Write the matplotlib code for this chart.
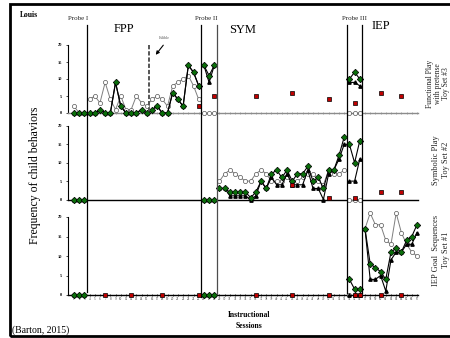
import matplotlib
matplotlib.use("Agg")
import matplotlib.pyplot as plt
import matplotlib.transforms as mtransforms
from matplotlib.lines import Line2D
from matplotlib.patches import Rectangle, FancyArrowPatch

plt.rcParams['font.family'] = ['Liberation Serif', 'DejaVu Serif']

# ---------------- data ----------------
sessions = list(range(1, 68))
phase_breaks = [3.5, 25.5, 28.5, 53.5, 56.5]   # Probe I | FPP | Probe II | SYM | Probe III | IEP

# Functional play with pretense (toy set #3)
fp_child = [0, 0, 0] + [0, 0, 1, 0, 0, 9, 2, 0, 0, 0, 1, 0, 1, 2, 0, 0, 6, 4, 2, 14, 12, 8] \
    + [14, 11, 14] + [None] * 25 + [10, 12, 10] + [None] * 11
fp_indep = [0, 0, 0] + [0, 0, 1, 0, 0, 9, 2, 0, 0, 0, 1, 0, 1, 2, 0, 0, 6, 4, 2, 14, 12, 8] \
    + [14, 9, 14] + [None] * 25 + [9, 9, 8] + [None] * 11
fp_other = [2, 0, 0] + [4, 5, 3, 9, 4, 1, 5, 1, 1, 5, 3, 2, 4, 5, 4, 2, 8, 9, 10, 11, 8, 4] \
    + [0, 0, 0] + [None] * 25 + [0, 0, 0] + [None] * 11
fp_gen_sessions = [25, 28, 36, 43, 50, 55, 60, 64]
fp_gen = [2, 5, 5, 6, 4, 3, 6, 5]

# Symbolic play (toy set #2)
sp_child = [0, 0, 0] + [None] * 22 + [0, 0, 0] \
    + [3, 3, 2, 2, 2, 2, 0.5, 2, 5, 3, 7, 8, 6, 8, 5, 7, 7, 9, 5, 6, 3, 8, 8, 12, 17] \
    + [15, 10, 16] + [None] * 11
sp_indep = [0, 0, 0] + [None] * 22 + [0, 0, 0] \
    + [3, 3, 1, 1, 1, 1, 0, 1, 5, 3, 6, 4, 4, 7, 4, 4, 4, 8, 3, 3, 0, 7, 8, 11, 15] \
    + [5, 5, 11] + [None] * 11
sp_other = [0, 0, 0] + [None] * 22 + [0, 0, 0] \
    + [5, 7, 8, 7, 6, 5, 5, 7, 8, 7, 5, 5, 5, 6, 5, 5, 6, 7, 7, 5, 4, 8, 7, 7, 8] \
    + [0, 0, 0] + [None] * 11
sp_gen_sessions = [43, 50, 55, 60, 64]
sp_gen = [4, 0.5, 0.5, 2, 2]

# IEP goal sequences (toy set #1)
ig_child = [0, 0, 0] + [None] * 22 + [0, 0, 0] + [None] * 25 + [4, 1.5, 1.5] \
    + [17, 8, 7, 6, 4, 11, 12, 11, 14, 15, 18]
ig_indep = [0, 0, 0] + [None] * 22 + [0, 0, 0] + [None] * 25 + [0, 0, 0] \
    + [17, 4, 4, 5, 1, 9, 11, 11, 13, 13, 16]
ig_other = [0, 0, 0] + [None] * 22 + [0, 0, 0] + [None] * 25 + [0, 0, 0] \
    + [17, 21, 18, 18, 14, 13, 21, 16, 13, 11, 10]
ig_gen_sessions = [7, 12, 18, 25, 36, 43, 50, 55, 56, 60, 64]
ig_gen = [0, 0, 0, 0, 0, 0, 0, 0, 0, 0, 0]

y_ticks = [0, 5, 10, 15, 20]

# ---------------- layout helpers ----------------
W, H = 450, 338
fig = plt.figure(figsize=(W / 100, H / 100), dpi=100)


def fx(px):
    return px / W


def fy(py):
    return 1 - py / H


X_LEFT, X_RIGHT = 68, 418
XMIN, XMAX = -0.15, 67.2


def make_panel(top, bot, zero, ppu, axis_color, ticks, labels):
    ax = fig.add_axes([fx(X_LEFT), fy(bot), (X_RIGHT - X_LEFT) / W, (bot - top) / H])
    ax.set_xlim(XMIN, XMAX)
    ax.set_ylim((zero - bot) / ppu, (zero - top) / ppu)
    ax.patch.set_visible(False)
    for side in ('top', 'right'):
        ax.spines[side].set_visible(False)
    ax.spines['left'].set_bounds(0, 20)
    ax.spines['left'].set_linewidth(0.8)
    ax.spines['bottom'].set_position(('data', 0))
    ax.spines['bottom'].set_bounds(XMIN, XMAX)
    ax.spines['bottom'].set_color(axis_color)
    ax.spines['bottom'].set_linewidth(1.0)
    ax.set_yticks(y_ticks)
    ax.set_yticklabels([str(v) for v in y_ticks], fontsize=3.2, fontweight='bold')
    ax.tick_params(axis='y', length=1.5, width=0.5, pad=3)
    if ticks:
        ax.set_xticks(sessions)
        ax.tick_params(axis='x', direction='inout', length=1.6, width=0.5,
                       color=axis_color, pad=0.8)
        if labels:
            ax.set_xticklabels([str(s) for s in sessions], fontsize=2.3, color='#333333')
        else:
            ax.set_xticklabels([])
    else:
        ax.set_xticks([])
    return ax


def phase_segments(values):
    bounds = [0] + phase_breaks + [100]
    for lo, hi in zip(bounds[:-1], bounds[1:]):
        xs = [s for s, v in zip(sessions, values) if v is not None and lo < s < hi]
        ys = [v for s, v in zip(sessions, values) if v is not None and lo < s < hi]
        if xs:
            yield xs, ys


def draw_series(ax, other, indep, child, gen_x, gen_y):
    for xs, ys in phase_segments(other):
        ax.plot(xs, ys, color='#7f7f7f', lw=0.7, marker='o', ms=3.0,
                mfc='white', mec='#555555', mew=0.5, clip_on=False, zorder=3)
    for xs, ys in phase_segments(indep):
        ax.plot(xs, ys, color='black', lw=0.8, marker='^', ms=2.4,
                mfc='black', mec='black', clip_on=False, zorder=4)
    for xs, ys in phase_segments(child):
        ax.plot(xs, ys, color='black', lw=0.8, marker='D', ms=3.3,
                mfc='#0a6e0a', mec='black', mew=0.5, clip_on=False, zorder=5)
    ax.plot(gen_x, gen_y, linestyle='none', marker='s', ms=2.7,
            mfc='#c00000', mec='black', mew=0.5, clip_on=False, zorder=6)


ax1 = make_panel(40, 117, 113, 3.4, '#8c8c8c', True, False)
ax2 = make_panel(121, 203, 199.5, 3.675, 'black', False, False)
ax3 = make_panel(212, 299, 295, 3.9, 'black', True, True)

draw_series(ax1, fp_other, fp_indep, fp_child, fp_gen_sessions, fp_gen)
draw_series(ax2, sp_other, sp_indep, sp_child, sp_gen_sessions, sp_gen)
draw_series(ax3, ig_other, ig_indep, ig_child, ig_gen_sessions, ig_gen)

# ---------------- phase change lines across all panels ----------------
blend = mtransforms.blended_transform_factory(ax3.transData, fig.transFigure)
phase_lines = [(3.5, 25, 292, 'black'), (25.5, 25, 297, 'black'), (28.5, 25, 294, '#4d4d4d'),
               (53.5, 25, 293, 'black'), (56.5, 25, 293, 'black')]
for xs, y_top, y_bot, col in phase_lines:
    fig.add_artist(Line2D([xs, xs], [fy(y_top), fy(y_bot)], transform=blend,
                          color=col, lw=0.9))

# edible condition change (dashed) with arrow
fig.add_artist(Line2D([15.5, 15.5], [fy(45), fy(113)], transform=blend,
                      color='#555555', lw=1.4, dashes=(2.2, 1.0)))
fig.add_artist(FancyArrowPatch(posA=(fx(165), fy(43)), posB=(fx(154), fy(57)),
                               transform=fig.transFigure, arrowstyle='-|>',
                               mutation_scale=5, lw=0.8, color='black'))
fig.text(fx(164), fy(38), 'Edible', fontsize=3.2, color='#666666', ha='center', va='center')

# ---------------- labels ----------------
fig.text(fx(20), fy(15), 'Louis', fontsize=5.5, fontweight='bold', ha='left', va='center')
fig.text(fx(78), fy(18), 'Probe I', fontsize=5, ha='center', va='center', color='#222222')
fig.text(fx(206), fy(18), 'Probe II', fontsize=5, ha='center', va='center', color='#222222')
fig.text(fx(355), fy(18), 'Probe III', fontsize=5, ha='center', va='center', color='#222222')
fig.text(fx(124), fy(29), 'FPP', fontsize=9, ha='center', va='center')
fig.text(fx(243), fy(30), 'SYM', fontsize=9, ha='center', va='center')
fig.text(fx(381), fy(26), 'IEP', fontsize=9, ha='center', va='center')

fig.text(fx(35), fy(175), 'Frequency of child behaviors', fontsize=8.5, rotation=90,
         ha='center', va='center')
fig.text(fx(249), fy(315), 'Instructional', fontsize=5.5, fontweight='bold',
         ha='center', va='center')
fig.text(fx(249), fy(326), 'Sessions', fontsize=5.5, fontweight='bold',
         ha='center', va='center')
fig.text(fx(12), fy(330), '(Barton, 2015)', fontsize=7, ha='left', va='center')

side_kw = dict(rotation=90, ha='center', va='center', multialignment='center',
               color='#222222')
fig.text(fx(438), fy(84), 'Functional Play\nwith pretense\nToy Set #3', fontsize=5.5,
         linespacing=1.05, **side_kw)
fig.text(fx(441), fy(160), 'Symbolic Play\nToy Set #2', fontsize=6, linespacing=1.25, **side_kw)
fig.text(fx(441), fy(250), 'IEP Goal  Sequences\nToy Set #1', fontsize=6, linespacing=1.25,
         **side_kw)

# outer frame
fig.add_artist(Rectangle((fx(10), fy(336)), 1.2, fy(4) - fy(336), transform=fig.transFigure,
                         fill=False, lw=2.0, edgecolor='black'))

fig.savefig('out.png', dpi=100)
